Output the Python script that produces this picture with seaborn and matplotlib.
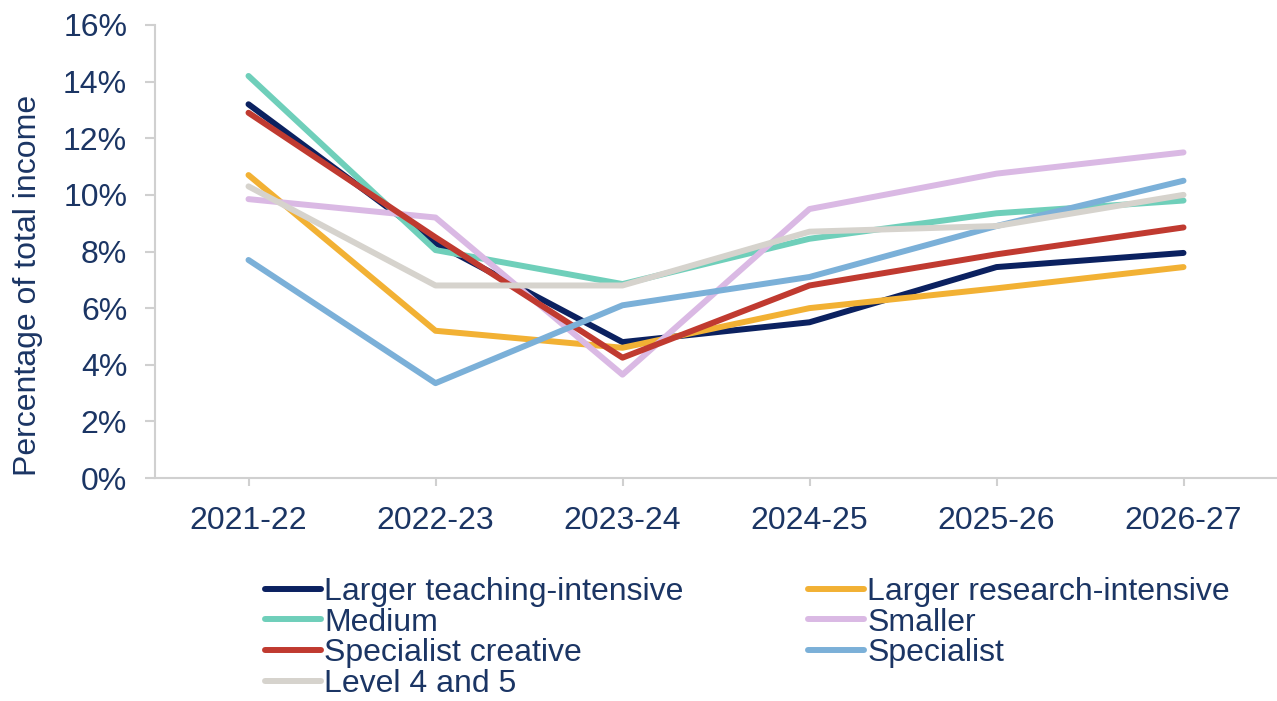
import pandas as pd
import numpy as np
import matplotlib
matplotlib.use("Agg")
import matplotlib.pyplot as plt
import seaborn as sns

# Data (percent of total income)
years = ["2021-22", "2022-23", "2023-24", "2024-25", "2025-26", "2026-27"]

larger_teaching = [13.2, 8.3, 4.8, 5.5, 7.45, 7.95]
larger_research = [10.7, 5.2, 4.6, 6.0, 6.7, 7.45]
medium = [14.2, 8.05, 6.85, 8.45, 9.35, 9.8]
smaller = [9.85, 9.2, 3.65, 9.5, 10.75, 11.5]
specialist_creative = [12.9, 8.5, 4.25, 6.8, 7.9, 8.85]
specialist = [7.7, 3.35, 6.1, 7.1, 8.9, 10.5]
level_4_5 = [10.3, 6.8, 6.8, 8.7, 8.9, 10.0]

groups = ["Larger teaching-intensive", "Larger research-intensive", "Medium",
          "Smaller", "Specialist creative", "Specialist", "Level 4 and 5"]
series = [larger_teaching, larger_research, medium, smaller,
          specialist_creative, specialist, level_4_5]
colors = ["#0b2160", "#f2b134", "#6fcfba", "#dab9e4", "#c03a30", "#7bb0d8", "#d6d3cd"]

df = pd.concat([pd.DataFrame({"year": years, "value": vals, "group": name})
                for name, vals in zip(groups, series)], ignore_index=True)

text_color = "#1b3564"
spine_color = "#d0d0d0"
fs = 23
lw = 4.3

sns.set_style("white")
plt.rcParams["font.family"] = ["Liberation Sans", "DejaVu Sans"]

fig = plt.figure(figsize=(12.77, 7.01), dpi=100)
ax = fig.add_axes([155 / 1277, 1 - 478 / 701, 1 - 155 / 1277, 453 / 701])

sns.lineplot(data=df, x="year", y="value", hue="group", hue_order=groups,
             palette=colors, sort=False, linewidth=lw, ax=ax, legend=False)

ax.set_xlim(-0.5, len(years) - 0.5)
ax.set_ylim(0, 16)
ax.set_yticks(np.arange(0, 17, 2))
ax.set_yticklabels([f"{v}%" for v in range(0, 17, 2)])
ax.set_xlabel("")
ax.set_ylabel("Percentage of total income", fontsize=fs, color=text_color)
ax.yaxis.set_label_coords(-0.100, 0.425)

for side in ["top", "right"]:
    ax.spines[side].set_visible(False)
for side in ["left", "bottom"]:
    ax.spines[side].set_color(spine_color)
    ax.spines[side].set_linewidth(1.5)

ax.tick_params(axis="y", length=7, width=1.5, color=spine_color, pad=13,
               labelsize=fs, labelcolor=text_color, left=True)
ax.tick_params(axis="x", length=6, width=1.5, color=spine_color, pad=14,
               labelsize=fs, labelcolor=text_color, bottom=True)

# legend: column-first fill, so reorder to read row-wise like the reference
handles = [plt.Line2D([], [], color=c, linewidth=lw) for c in colors]
order = [0, 2, 4, 6, 1, 3, 5]
fig.legend([handles[i] for i in order], [groups[i] for i in order],
           loc="upper left", bbox_to_anchor=(265 / 1277, 1 - 577 / 701),
           ncol=2, frameon=False, fontsize=fs, labelcolor=text_color,
           handlelength=1.75, handletextpad=0.1, columnspacing=3.9,
           labelspacing=0.02, borderpad=0, borderaxespad=0)

fig.savefig("out.png", dpi=100)
